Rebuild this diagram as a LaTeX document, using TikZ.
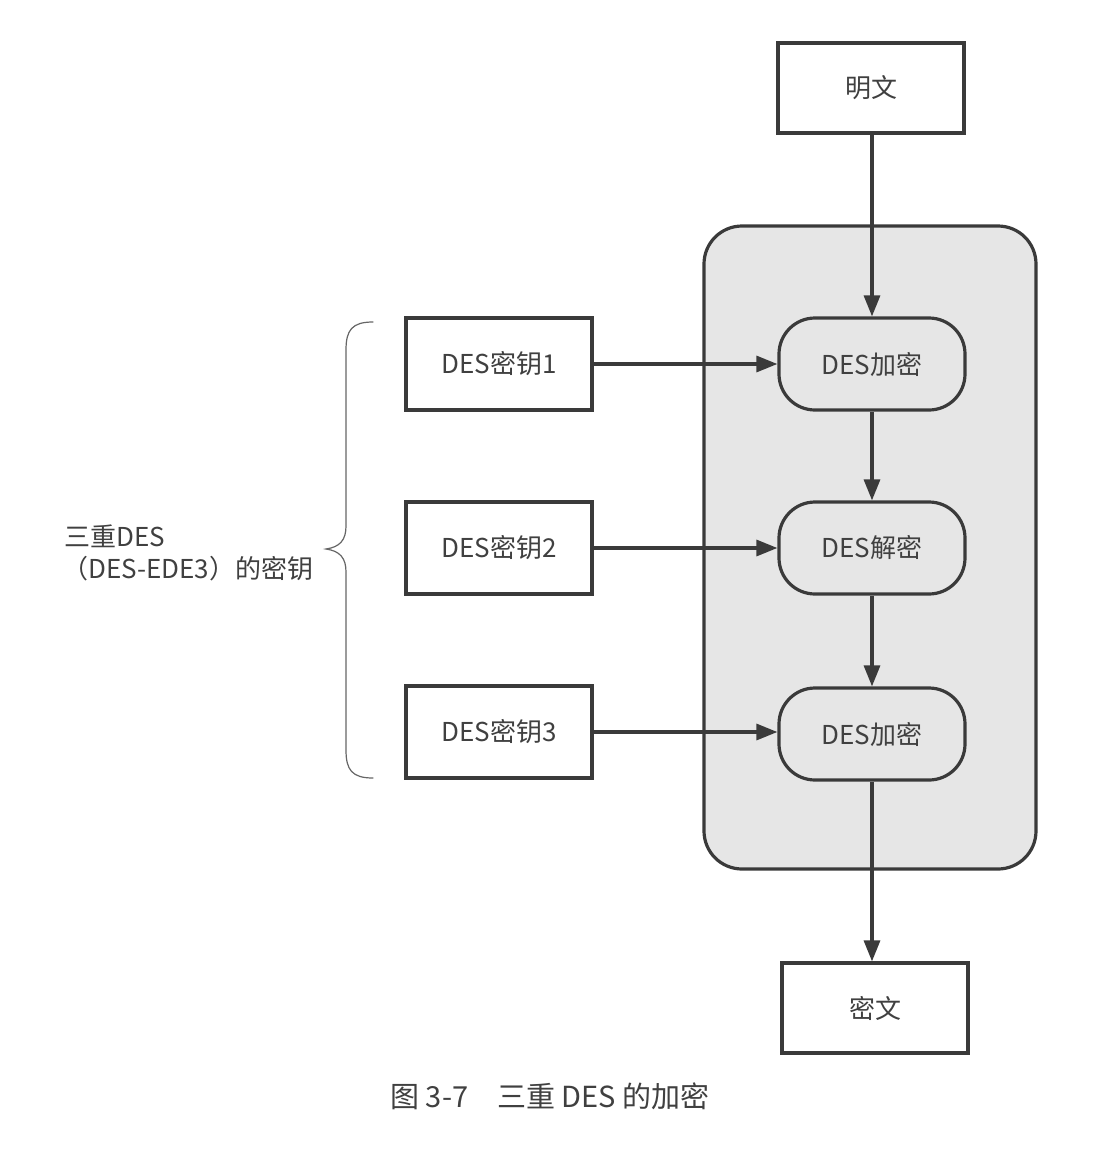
\documentclass[tikz,border=0pt]{standalone}
\usepackage{fontspec}
\setmainfont{Noto Sans CJK SC}
\usetikzlibrary{arrows.meta,positioning}
\definecolor{ink}{HTML}{3A3A3A}
\definecolor{txt}{HTML}{404040}
\definecolor{panel}{HTML}{E6E6E6}
\tikzset{
  sqbox/.style={draw=ink, line width=3.2pt, fill=white, minimum width=186pt, minimum height=90pt, inner sep=0pt, text=txt, font=\fontsize{26pt}{30pt}\selectfont},
  rdbox/.style={draw=ink, line width=3.2pt, fill=panel, rounded corners=36pt, minimum width=186pt, minimum height=92pt, inner sep=0pt, text=txt, font=\fontsize{26pt}{30pt}\selectfont},
  flow/.style={draw=ink, line width=3.2pt, -{Triangle[length=21pt,width=16pt]}},
  lbl/.style={text=txt, font=\fontsize{26pt}{33pt}\selectfont, inner sep=0pt}
}
\begin{document}
\begin{tikzpicture}[x=1pt,y=-1pt]
\useasboundingbox (0,0) rectangle (1114,1152);
\fill[white] (0,0) rectangle (1114,1152);
% panel
\draw[draw=ink, line width=3.2pt, fill=panel, rounded corners=38pt] (704,226) rectangle (1036,869);
% nodes
\node[sqbox] (plain) at (871,88) {明文};
\node[rdbox] (enc1) at (872,364) {DES加密};
\node[rdbox] (dec) at (872,548) {DES解密};
\node[rdbox] (enc2) at (872,734) {DES加密};
\node[sqbox] (cipher) at (875,1008) {密文};
\node[sqbox, minimum height=92pt] (k1) at (499,364) {DES密钥1};
\node[sqbox, minimum height=92pt] (k2) at (499,548) {DES密钥2};
\node[sqbox, minimum height=92pt] (k3) at (499,732) {DES密钥3};
% connectors
\draw[flow] (plain.south -| enc1.north) -- (enc1.north);
\draw[flow] (enc1) -- (dec);
\draw[flow] (dec) -- (enc2);
\draw[flow] (enc2.south) -- (enc2.south |- cipher.north);
\draw[flow] (k1) -- (enc1);
\draw[flow] (k2) -- (dec);
\draw[flow] (k3.east) -- (k3.east -| enc2.west);
% brace
\draw[color=gray!80!black, line width=1.2pt, line cap=round]
  (373,322) .. controls (352,322) and (346,330) .. (346,350)
  -- (346,526) .. controls (346,540) and (340,547) .. (326,549)
  .. controls (340,551) and (346,558) .. (346,572)
  -- (346,750) .. controls (346,770) and (352,778) .. (373,778);
% label
\node[lbl, anchor=west] (keylbl1) at (64,536) {三重DES};
\node[lbl, anchor=west] (keylbl2) at (62,569) {（DES-EDE3）的密钥};
% caption
\node[lbl, font=\fontsize{29pt}{33pt}\selectfont] (caption) at (550,1096) {图 3-7\hspace{1em}三重 DES 的加密};
\end{tikzpicture}
\end{document}
